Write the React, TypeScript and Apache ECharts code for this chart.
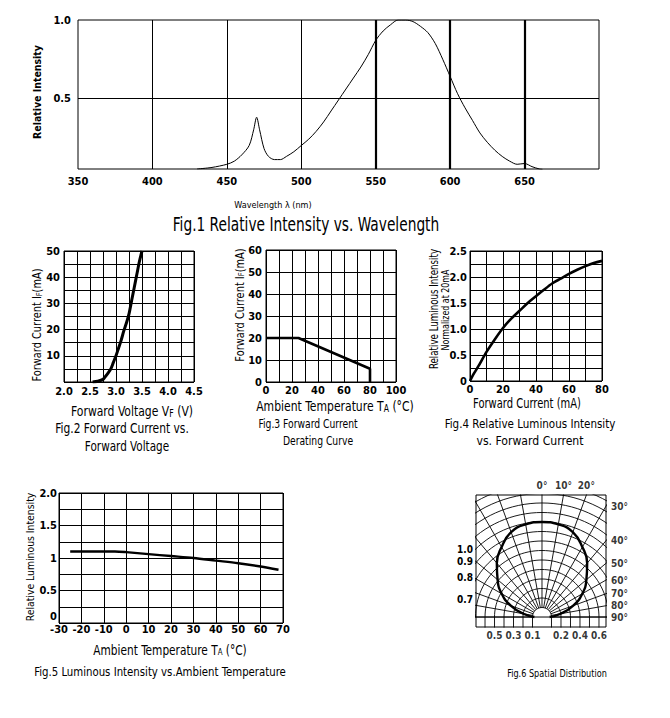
import React, { useEffect, useRef } from "react";
import * as echarts from "echarts";

// ---------- Fig.1 Relative Intensity vs. Wavelength ----------
const fig1Wavelength = [430, 440, 450, 455, 460, 465, 468, 470, 472, 475, 478, 482, 486, 490, 495, 500, 505, 510, 515, 520, 525, 530, 535, 540, 545, 550, 555, 560, 565, 570, 575, 580, 585, 590, 595, 600, 605, 610, 615, 620, 625, 630, 635, 640, 645, 650, 655, 660, 662];
const fig1Intensity = [0.05, 0.06, 0.08, 0.1, 0.14, 0.2, 0.3, 0.38, 0.3, 0.18, 0.13, 0.11, 0.11, 0.13, 0.16, 0.2, 0.24, 0.29, 0.35, 0.42, 0.49, 0.56, 0.63, 0.7, 0.78, 0.87, 0.93, 0.97, 1.0, 1.0, 0.99, 0.96, 0.92, 0.85, 0.75, 0.64, 0.53, 0.44, 0.36, 0.28, 0.22, 0.17, 0.13, 0.1, 0.08, 0.085, 0.065, 0.05, 0.048];
const fig1ThinGrid = [400, 450, 500];
const fig1ThickGrid = [550, 600, 650];
const fig1YLabels = [0.5, 1.0];

// ---------- Fig.2 Forward Current vs. Forward Voltage ----------
const fig2Voltage = [2.55, 2.65, 2.75, 2.8, 2.85, 2.9, 2.95, 3.0, 3.05, 3.1, 3.15, 3.2, 3.25, 3.3, 3.35, 3.4, 3.45, 3.5];
const fig2Current = [0, 0.3, 1, 2.2, 3.5, 5, 7.5, 10, 13, 16, 19.5, 22.5, 26, 31, 36, 41, 46, 50];

// ---------- Fig.3 Forward Current Derating Curve ----------
const fig3Temp = [0, 25, 80, 80];
const fig3Current = [20, 20, 6, 0];

// ---------- Fig.4 Relative Luminous Intensity vs. Forward Current ----------
const fig4Current = [0, 2.5, 5, 10, 15, 20, 25, 30, 35, 40, 45, 50, 55, 60, 65, 70, 75, 80];
const fig4Intensity = [0, 0.15, 0.28, 0.56, 0.8, 1.02, 1.2, 1.35, 1.5, 1.63, 1.76, 1.88, 1.97, 2.06, 2.14, 2.21, 2.27, 2.31];

// ---------- Fig.5 Luminous Intensity vs. Ambient Temperature ----------
const fig5Temp = [-25, -15, -5, 0, 10, 20, 30, 40, 50, 60, 68];
const fig5Intensity = [1.1, 1.1, 1.1, 1.09, 1.06, 1.03, 1.0, 0.96, 0.92, 0.87, 0.82];

// ---------- Fig.6 Spatial Distribution ----------
const fig6Angles = [-90, -80, -70, -60, -50, -40, -30, -20, -10, 0, 10, 20, 30, 40, 50, 60, 70, 80, 90];
const fig6Intensity = [0.08, 0.2, 0.35, 0.49, 0.61, 0.74, 0.85, 0.95, 0.99, 1.0, 0.99, 0.95, 0.85, 0.74, 0.61, 0.49, 0.35, 0.2, 0.08];
const fig6RingRadii = [0.1, 0.2, 0.3, 0.4, 0.5, 0.6, 0.7, 0.8, 0.9, 1.0, 1.1, 1.2, 1.3, 1.4];
const fig6AngleLabels = [0, 10, 20, 30, 40, 50, 60, 70, 80, 90];
const fig6BottomLeft = [0.5, 0.3, 0.1];
const fig6BottomRight = [0.2, 0.4, 0.6];
const fig6LeftLabels = ["1.0", "0.9", "0.8", "0.7"];

const FONT = '"DejaVu Sans Condensed", "Liberation Sans Narrow", sans-serif';
const near = (a: number, b: number) => Math.abs(a - b) < 1e-6;
const rad = (d: number) => (d * Math.PI) / 180;

function txt(x: number, y: number, text: string, size: number, opts: any = {}) {
  return {
    type: "text",
    x,
    y,
    rotation: opts.rot ? Math.PI / 2 : 0,
    scaleX: opts.sx ?? 1,
    scaleY: opts.sy ?? 1,
    silent: true,
    style: {
      text,
      fill: "#000",
      fontFamily: FONT,
      fontSize: size,
      fontWeight: opts.bold ? "bold" : "normal",
      textAlign: opts.align ?? "center",
      textVerticalAlign: "middle",
      align: opts.align ?? "center",
      verticalAlign: "middle",
      rich: {
        s: { fontSize: Math.round(size * 0.7), fontFamily: FONT, fill: "#000", padding: [Math.round(size * 0.3), 0, 0, 0] },
      },
    },
  };
}

function axis(gridIndex: number, min: number, max: number, interval: number, size: number, margin: number, formatter: any, split = true) {
  return {
    type: "value",
    gridIndex,
    min,
    max,
    interval,
    axisLine: { show: false },
    axisTick: { show: false },
    splitLine: { show: split, lineStyle: { color: "#000", width: 1 } },
    axisLabel: { color: "#000", fontFamily: FONT, fontSize: size, fontWeight: "bold", margin, formatter },
  };
}

function lineSeries(idx: number, data: any[], width: number, extra: any = {}) {
  return {
    type: "line",
    xAxisIndex: idx,
    yAxisIndex: idx,
    data,
    showSymbol: false,
    symbol: "none",
    silent: true,
    clip: true,
    lineStyle: { color: "#000", width },
    ...extra,
  };
}

function buildOption() {
  const zip = (a: number[], b: number[]) => a.map((v, i) => [v, b[i]]);
  const grids = [
    { left: 78, top: 20, width: 521, height: 149 },
    { left: 64, top: 251, width: 130, height: 131 },
    { left: 266, top: 250, width: 130, height: 132 },
    { left: 470, top: 251, width: 132, height: 130 },
    { left: 59, top: 493, width: 224, height: 130 },
    { left: 476, top: 495, width: 130, height: 132 },
  ].map((g) => ({ ...g, show: true, borderColor: "#000", borderWidth: 1, containLabel: false }));

  // Fig.6 box in data units
  const f6 = { xmin: -0.695, xmax: 0.674, ymin: -0.105, ymax: 1.284 };

  const xAxes: any[] = [
    axis(0, 350, 700, 50, 11, 7, (v: number) => (v === 700 ? "" : String(v)), false),
    axis(1, 2.0, 4.5, 0.25, 11, 4, (v: number) => (near(v * 2, Math.round(v * 2)) ? v.toFixed(1) : "")),
    axis(2, 0, 100, 10, 11, 3, (v: number) => (v % 20 === 0 ? String(v) : "")),
    axis(3, 0, 80, 10, 11, 3, (v: number) => (v % 20 === 0 ? String(v) : "")),
    axis(4, -30, 70, 10, 11, 1, (v: number) => String(v)),
    { type: "value", gridIndex: 5, min: f6.xmin, max: f6.xmax, show: false },
  ];
  const yAxes: any[] = [
    axis(0, 0.05, 1.0, 0.05, 11, 7, (v: number) => {
      const hit = fig1YLabels.find((l) => near(l, v));
      return hit !== undefined ? hit.toFixed(1) : "";
    }, false),
    axis(1, 0, 50, 5, 11, 4, (v: number) => (v % 10 === 0 && v !== 0 ? String(v) : "")),
    axis(2, 0, 60, 10, 11, 4, (v: number) => String(v)),
    axis(3, 0, 2.5, 0.25, 11, 3, (v: number) => (near(v * 2, Math.round(v * 2)) ? (v === 0 ? "0" : v.toFixed(1)) : "")),
    // the "0" of Fig.5 is drawn just above the corner (see graphic), as in the reference
    axis(4, 0, 2.0, 0.25, 11, 2, (v: number) => (near(v * 2, Math.round(v * 2)) && v !== 0 ? (near(v, 2) ? "2.0" : String(v)) : "")),
    { type: "value", gridIndex: 5, min: f6.ymin, max: f6.ymax, show: false },
  ];

  const series: any[] = [];
  series.push(
    lineSeries(0, zip(fig1Wavelength, fig1Intensity), 1, {
      smooth: 0.3,
      markLine: {
        silent: true,
        symbol: "none",
        label: { show: false },
        lineStyle: { color: "#000", type: "solid", width: 1 },
        data: [
          ...fig1ThinGrid.map((x) => ({ xAxis: x, lineStyle: { color: "#000", type: "solid", width: 1 } })),
          ...fig1ThickGrid.map((x) => ({ xAxis: x, lineStyle: { color: "#000", type: "solid", width: 2.2 } })),
          { yAxis: 0.5, lineStyle: { color: "#000", type: "solid", width: 1 } },
        ],
      },
    })
  );
  series.push(lineSeries(1, zip(fig2Voltage, fig2Current), 3, { smooth: 0.3 }));
  series.push(lineSeries(2, zip(fig3Temp, fig3Current), 2.6));
  series.push(lineSeries(3, zip(fig4Current, fig4Intensity), 2.6, { smooth: 0.3 }));
  series.push(lineSeries(4, zip(fig5Temp, fig5Intensity), 2.4, { smooth: 0.3 }));

  // Fig.6 polar grid
  fig6RingRadii.forEach((r) => {
    const pts: number[][] = [];
    for (let a = -90; a <= 90; a += 3) pts.push([r * Math.sin(rad(a)), r * Math.cos(rad(a))]);
    series.push(lineSeries(5, pts, 0.9));
    if (r < 0.7) {
      series.push(lineSeries(5, [[r, 0], [r, -0.3]], 0.9));
      series.push(lineSeries(5, [[-r, 0], [-r, -0.3]], 0.9));
    }
  });
  fig6Angles.forEach((a) => {
    const r0 = 0.1;
    const r1 = 2.0;
    series.push(lineSeries(5, [[r0 * Math.sin(rad(a)), r0 * Math.cos(rad(a))], [r1 * Math.sin(rad(a)), r1 * Math.cos(rad(a))]], 0.9));
  });
  series.push(lineSeries(5, [[-1, 0], [1, 0]], 1));
  series.push(
    lineSeries(
      5,
      fig6Angles.map((a, i) => [fig6Intensity[i] * Math.sin(rad(a)), fig6Intensity[i] * Math.cos(rad(a))]),
      2.4,
      { smooth: 0.5 }
    )
  );

  // angle labels where radial lines hit the box
  const topPts: any[] = [];
  const rightPts: any[] = [];
  fig6AngleLabels.forEach((a) => {
    const t = Math.tan(rad(a));
    if (a < 90 && f6.ymax * t <= f6.xmax) topPts.push({ value: [f6.ymax * t, f6.ymax], name: `${a}°` });
    else rightPts.push({ value: [f6.xmax, a >= 90 ? 0 : f6.xmax / t], name: `${a}°` });
  });
  const labelSeries = (data: any[], position: string, distance: number) => ({
    type: "scatter",
    xAxisIndex: 5,
    yAxisIndex: 5,
    symbolSize: 0,
    clip: false,
    silent: true,
    data,
    label: {
      show: true,
      position,
      distance,
      formatter: "{b}",
      color: "#000",
      fontFamily: FONT,
      fontSize: 10,
      fontWeight: "bold",
    },
  });
  series.push(labelSeries(topPts, "top", 5));
  series.push(labelSeries(rightPts, "right", 5));
  series.push(
    labelSeries(
      [...fig6BottomLeft.map((v) => ({ value: [-v, f6.ymin], name: v.toFixed(1) })), ...fig6BottomRight.map((v) => ({ value: [v, f6.ymin], name: v.toFixed(1) }))],
      "bottom",
      3
    )
  );

  const leftLabelY = [549, 561, 577, 599];
  const graphic: any[] = [
    txt(37, 92, "Relative Intensity", 11, { rot: true, bold: true, sx: 0.95 }),
    txt(273, 204, "Wavelength λ (nm)", 9.5, { sx: 0.95 }),
    txt(306, 224, "Fig.1 Relative Intensity vs. Wavelength", 17, { sx: 0.9, sy: 1.1 }),

    txt(37, 325, "Forward Current I{s|F}(mA)", 12, { rot: true, sx: 0.91 }),
    txt(132, 411, "Forward Voltage V{s|F} (V)", 14, { sx: 0.86 }),
    txt(122, 428, "Fig.2 Forward Current vs.", 13.5, { sx: 0.88 }),
    txt(127, 446, "Forward Voltage", 13.5, { sx: 0.86 }),

    txt(240, 305, "Forward Current I{s|F}(mA)", 11.5, { rot: true, sx: 0.95 }),
    txt(335, 406, "Ambient Temperature T{s|A} (°C)", 14, { sx: 0.86 }),
    txt(308, 424, "Fig.3 Forward Current", 12.5, { sx: 0.82 }),
    txt(318, 441, "Derating Curve", 12.5, { sx: 0.82 }),

    txt(434, 309, "Relative Luminous Intensity", 11.5, { rot: true, sx: 0.84 }),
    txt(445, 310, "Normalized at 20mA", 10, { rot: true, sx: 0.88 }),
    txt(527, 404, "Forward Current (mA)", 13.5, { sx: 0.82 }),
    txt(530, 424, "Fig.4 Relative Luminous Intensity", 12.5, { sx: 0.92 }),
    txt(530, 441, "vs. Forward Current", 12.5, { sx: 0.97 }),

    txt(30, 557, "Relative Luminous Intensity", 11, { rot: true, sx: 0.94 }),
    txt(170, 650, "Ambient Temperature T{s|A} (°C)", 13.5, { sx: 0.87 }),
    txt(160, 672, "Fig.5 Luminous Intensity vs.Ambient Temperature", 13, { sx: 0.87 }),
    txt(57, 616, "0", 11, { bold: true, align: "right" }),

    txt(557, 673, "Fig.6 Spatial Distribution", 10.5, { sx: 0.86 }),
    ...fig6LeftLabels.map((l, i) => txt(465, leftLabelY[i], l, 10, { bold: true })),
  ];

  return {
    animation: false,
    backgroundColor: "#fff",
    grid: grids,
    xAxis: xAxes,
    yAxis: yAxes,
    series,
    graphic,
  };
}

export default function App() {
  const ref = useRef<HTMLDivElement>(null);
  useEffect(() => {
    document.body.style.margin = "0";
    if (!ref.current) return;
    const chart = echarts.init(ref.current, undefined, { renderer: "svg" });
    chart.setOption(buildOption() as any);
    return () => chart.dispose();
  }, []);
  return <div ref={ref} style={{ width: 670, height: 718 }} />;
}
